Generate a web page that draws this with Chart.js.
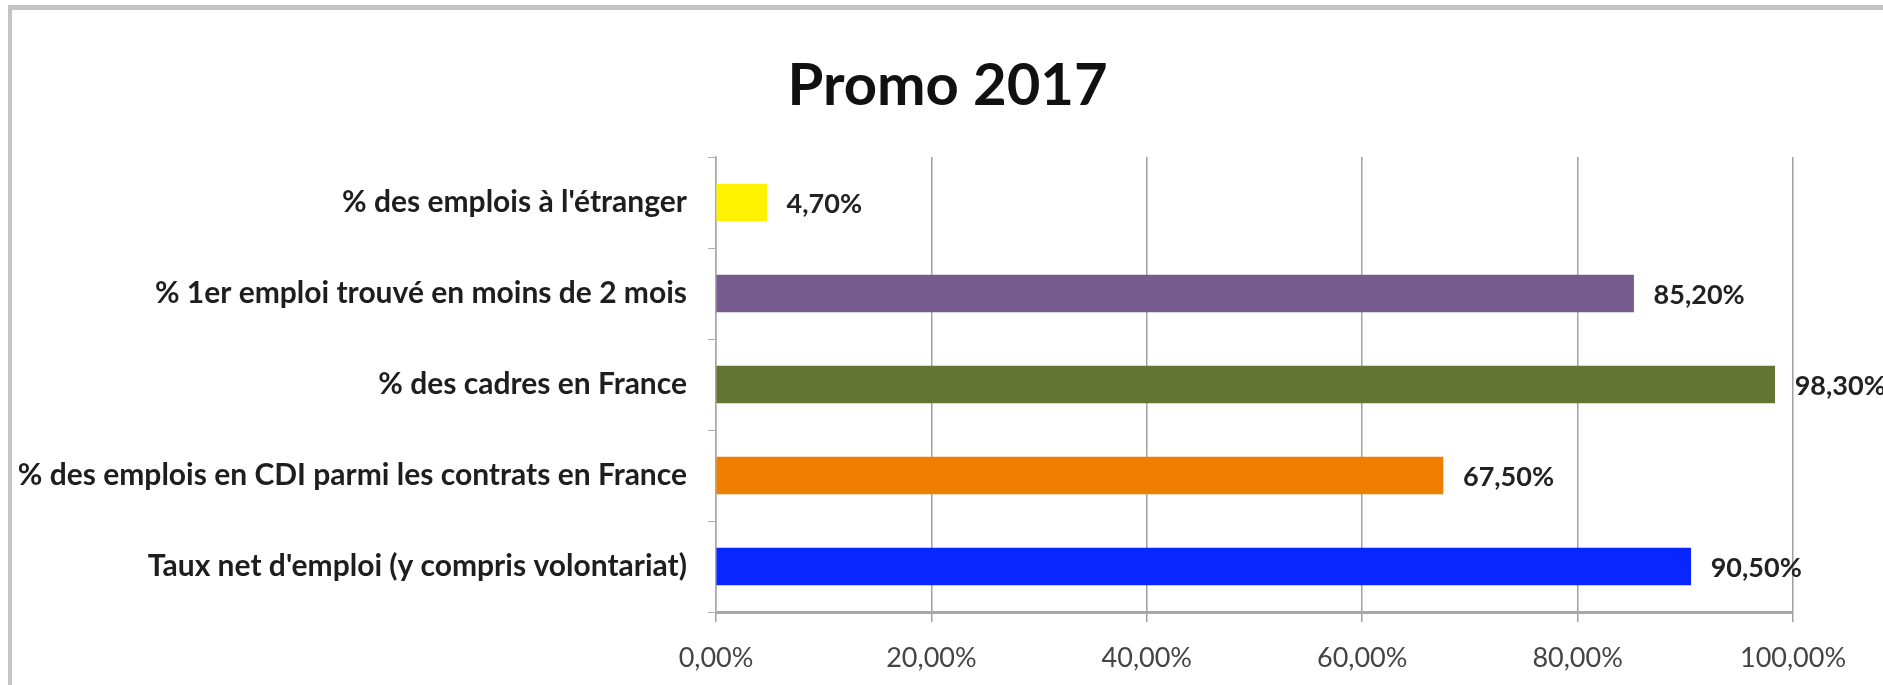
<!DOCTYPE html>
<html lang="fr">
<head>
  <meta charset="UTF-8">
  <title>Promo 2017</title>
  <script src="https://cdn.jsdelivr.net/npm/chart.js"></script>
  <style>
    body {
      margin: 0;
      background: #ffffff;
      overflow: hidden;
    }

    .frame {
      position: absolute;
      left: 8px;
      top: 5px;
      width: 1890px;
      height: 700px;
      border-left: 4px solid #c4c4c4;
      border-top: 5px solid #c4c4c4;
    }

    .chart-container {
      position: absolute;
      left: 0;
      top: 0;
      width: 1883px;
      height: 685px;
    }
  </style>
</head>
<body>

  <div class="frame"></div>
  <div class="chart-container">
    <canvas id="promoChart"></canvas>
  </div>

  <script>
    const chartTitle = 'Promo 2017';
    const categories = [
      "% des emplois à l'étranger",
      "% 1er emploi trouvé en moins de 2 mois",
      "% des cadres en France",
      "% des emplois en CDI parmi les contrats en France",
      "Taux net d'emploi (y compris volontariat)"
    ];
    const values = [4.7, 85.2, 98.3, 67.5, 90.5];
    const barColors = ['#fff200', '#785b8e', '#647433', '#f07f00', '#0a26ff'];
    const tickLabels = ['0,00%', '20,00%', '40,00%', '60,00%', '80,00%', '100,00%'];

    function pct(v) {
      return v.toFixed(2).replace('.', ',') + '%';
    }

    // titre centre sur toute la largeur (pas seulement sur la zone du graphique)
    const pageTitle = {
      id: 'pageTitle',
      afterDraw(chart) {
        const ctx = chart.ctx;
        ctx.save();
        ctx.font = 'bold 58px Lato, sans-serif';
        ctx.fillStyle = '#111111';
        ctx.textAlign = 'center';
        ctx.textBaseline = 'middle';
        ctx.fillText(chartTitle, chart.width / 2 + 6, 86);
        ctx.restore();
      }
    };

    // etiquettes de valeur a droite des barres
    const valueLabels = {
      id: 'valueLabels',
      afterDatasetsDraw(chart) {
        const ctx = chart.ctx;
        const meta = chart.getDatasetMeta(0);
        ctx.save();
        ctx.font = 'bold 27px Lato, sans-serif';
        ctx.fillStyle = '#222222';
        ctx.textAlign = 'left';
        ctx.textBaseline = 'middle';
        meta.data.forEach((bar, i) => {
          ctx.fillText(pct(values[i]), bar.x + 20, bar.y + 2);
        });
        ctx.restore();
      }
    };

    const ctx = document.getElementById('promoChart').getContext('2d');
    new Chart(ctx, {
      type: 'bar',
      data: {
        labels: categories,
        datasets: [{
          data: values,
          backgroundColor: barColors,
          borderWidth: 0,
          barThickness: 37
        }]
      },
      options: {
        indexAxis: 'y',
        responsive: true,
        maintainAspectRatio: false,
        animation: false,
        layout: {
          padding: { left: 0, right: 90, top: 157, bottom: 0 }
        },
        plugins: {
          legend: { display: false },
          tooltip: { enabled: false },
          title: { display: false }
        },
        scales: {
          x: {
            min: 0,
            max: 100,
            afterFit(scale) { scale.height = 73; },
            afterBuildTicks(scale) {
              scale.ticks = tickLabels.map((t, i) => ({ value: i * 20 }));
            },
            ticks: {
              color: '#444444',
              font: { family: 'Lato, sans-serif', size: 27 },
              padding: 20,
              callback: (v, i) => tickLabels[i]
            },
            grid: {
              color: '#a0a0a0',
              lineWidth: 1.5,
              tickLength: 10
            },
            border: { color: '#a8a8a8', width: 3 }
          },
          y: {
            afterFit(scale) { scale.width = 716; },
            ticks: {
              color: '#1e1e1e',
              font: { family: 'Lato, sans-serif', size: 30, weight: 'bold' },
              padding: 21
            },
            grid: {
              offset: true,
              drawOnChartArea: false,
              color: '#b0b0b0',
              tickLength: 8
            },
            border: { color: '#a8a8a8', width: 1.5 }
          }
        }
      },
      plugins: [valueLabels, pageTitle]
    });
  </script>

</body>
</html>
